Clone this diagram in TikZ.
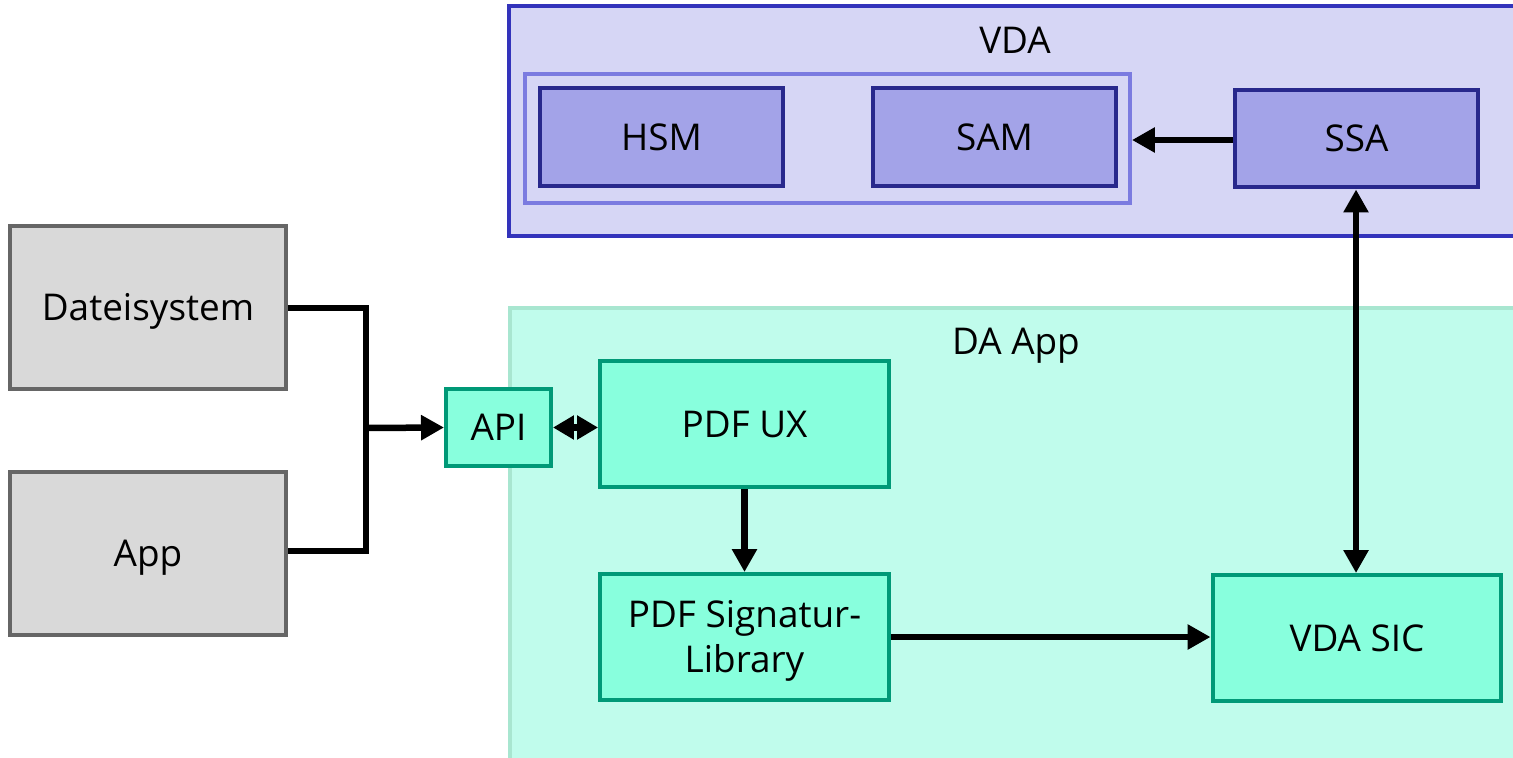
\documentclass[tikz,border=0pt]{standalone}
\usepackage{fontspec}
\setmainfont{Open Sans}
\definecolor{vdafill}{HTML}{D6D6F5}
\definecolor{vdaline}{HTML}{3333BB}
\definecolor{vdagroupline}{HTML}{7B7BE0}
\definecolor{vdaboxfill}{HTML}{A3A3E8}
\definecolor{vdaboxline}{HTML}{28288C}
\definecolor{dafill}{HTML}{C0FCEC}
\definecolor{daline}{HTML}{A8E6D0}
\definecolor{daboxfill}{HTML}{88FFDD}
\definecolor{daboxline}{HTML}{009977}
\definecolor{extfill}{HTML}{D9D9D9}
\definecolor{extline}{HTML}{666666}
\usepackage{tikz}
\usetikzlibrary{arrows.meta}

\begin{document}
\begin{tikzpicture}[x=0.02cm, y=-0.02cm,
    every node/.style={font=\fontsize{21}{25.5}\selectfont, inner sep=0pt, align=center, text height=15pt, text depth=0pt},
    vdabox/.style={draw=vdaboxline, fill=vdaboxfill, line width=0.8mm, minimum width=4.86cm, minimum height=1.96cm},
    dabox/.style={draw=daboxline, fill=daboxfill, line width=0.8mm, minimum width=5.78cm, minimum height=2.52cm},
    extbox/.style={draw=extline, fill=extfill, line width=0.8mm, minimum width=5.52cm, minimum height=3.26cm},
    link/.style={line width=1.3mm},
    tip/.style={-{Triangle[length=4.6mm, width=4.8mm]}}]
        \clip (0,0) rectangle (1513,757);
        % VDA container
        \draw[vdaline, fill=vdafill, line width=0.8mm] (509,6) rectangle (1560,236);
        \node (vda) at (1015,40) {VDA};
        \node[draw=vdagroupline, line width=0.8mm, minimum width=12.1cm, minimum height=2.58cm] (vdagroup) at (827.5,138.5) {};
        \node[vdabox] (hsm) at (661.5,137) {HSM};
        \node[vdabox] (sam) at (994.5,137) {SAM};
        \node[vdabox] (ssa) at (1356.5,138.5) {SSA};
        % DA App container
        \draw[daline, fill=dafill, line width=0.8mm] (510,308) rectangle (1560,800);
        \node (daapp) at (1016,341) {DA App};
        \node[dabox, minimum width=2.1cm, minimum height=1.54cm] (api) at (498.5,427.5) {API};
        \node[dabox] (pdfux) at (744.5,424) {PDF UX};
        \node[dabox, text height=40.5pt] (pdfsig) at (744.5,637) {PDF Signatur-\\Library};
        \node[dabox] (vdasic) at (1357,638) {VDA SIC};
        % external sources
        \node[extbox] (fs) at (148,307.5) {Dateisystem};
        \node[extbox] (app) at (148,553.5) {App};
        % connectors
        \coordinate (join) at (366,428);
        \draw[link, line join=miter] (fs.east |- 0,308) -| (join) |- (app.east |- 0,551);
        \draw[link, tip] (join) -- (api.west);
        \draw[link, {Triangle[length=4.2mm, width=4.6mm]}-{Triangle[length=4.2mm, width=4.6mm]}] (api.east) -- (pdfux.west |- api.east);
        \draw[link, tip] (pdfux.south) -- (pdfsig.north);
        \draw[link, tip] (pdfsig.east) -- (vdasic.west |- pdfsig.east);
        \draw[link, tip] (ssa.west |- 0,140) -- (vdagroup.east |- 0,140);
        \draw[link, {Triangle[length=4.6mm, width=4.8mm]}-{Triangle[length=4.6mm, width=4.8mm]}] (ssa.south -| 1356,0) -- (vdasic.north -| 1356,0);
      \end{tikzpicture}
\end{document}
